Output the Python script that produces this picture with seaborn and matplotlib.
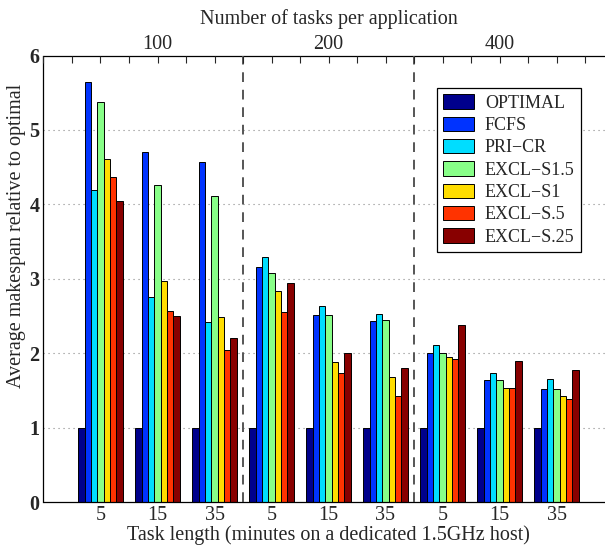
import matplotlib
matplotlib.use("Agg")
import matplotlib.pyplot as plt
import seaborn as sns
import pandas as pd
import numpy as np

methods = ["OPTIMAL", "FCFS", "PRI\u2212CR", "EXCL\u2212S1.5", "EXCL\u2212S1", "EXCL\u2212S.5", "EXCL\u2212S.25"]
task_lengths = ["5", "15", "35", "5", "15", "35", "5", "15", "35"]
tasks_per_app = ["100", "200", "400"]

optimal = [1, 1, 1, 1, 1, 1, 1, 1, 1]
fcfs    = [5.64, 4.71, 4.57, 3.16, 2.52, 2.44, 2.01, 1.64, 1.52]
pri_cr  = [4.20, 2.76, 2.42, 3.30, 2.63, 2.53, 2.11, 1.74, 1.65]
excl_s15 = [5.38, 4.26, 4.11, 3.08, 2.52, 2.45, 2.01, 1.64, 1.52]
excl_s1  = [4.61, 2.97, 2.49, 2.84, 1.89, 1.68, 1.95, 1.54, 1.43]
excl_s05 = [4.37, 2.57, 2.04, 2.56, 1.73, 1.43, 1.92, 1.53, 1.39]
excl_s025 = [4.05, 2.50, 2.20, 2.94, 2.01, 1.80, 2.38, 1.90, 1.78]

series = [optimal, fcfs, pri_cr, excl_s15, excl_s1, excl_s05, excl_s025]
colors = ["#00008C", "#0033FF", "#00DDFF", "#88FF88", "#FFDD00", "#FF3300", "#880000"]

groups = [f"g{i}" for i in range(len(task_lengths))]
rows = []
for m, vals in zip(methods, series):
    for g, v in zip(groups, vals):
        rows.append({"group": g, "method": m, "value": v})
df = pd.DataFrame(rows)

sns.set_style("white")
plt.rcParams["font.family"] = ["Liberation Serif", "DejaVu Serif"]
plt.rcParams["font.size"] = 14.5

fig = plt.figure(figsize=(6.05, 5.48), dpi=100)
W, H = 605, 548
left_px, right_px, top_px, bot_px = 43.5, 613.5, 55.5, 502.3
ax = fig.add_axes([left_px / W, 1 - bot_px / H, (right_px - left_px) / W, (bot_px - top_px) / H])

sns.barplot(data=df, x="group", y="value", hue="method", order=groups, hue_order=methods,
            palette=colors, width=0.777, edgecolor="black", linewidth=0.7, ax=ax,
            saturation=1, legend=True)

ax.set_xlim(-1, 9)
ax.set_ylim(0, 6)
ax.set_yticks(range(7))
ax.set_yticklabels([str(i) for i in range(7)], fontweight="bold")
ax.set_xticks(range(9))
ax.set_xticklabels(task_lengths)
ax.tick_params(axis="x", direction="in", length=0, pad=3)
ax.tick_params(axis="y", direction="out", length=2, width=0.8, pad=1)
ax.set_xlabel("Task length (minutes on a dedicated 1.5GHz host)", labelpad=0)
ax.set_ylabel("")
fig.text(17 / W, 1 - 236 / H, "Average makespan relative to optimal", rotation=90,
         ha="center", va="center", fontsize=14.5)

ax.set_axisbelow(True)
for yv in range(1, 6):
    ax.axhline(yv, color="#888888", linestyle=(0, (1, 3.5)), linewidth=0.8, zorder=0)
for xv in [2.5, 5.5]:
    ax.axvline(xv, color="#555555", linestyle=(0, (5, 4)), linewidth=1.4, zorder=3)

for sp in ax.spines.values():
    sp.set_color("black")
    sp.set_linewidth(0.9)

top = ax.twiny()
top.set_xlim(ax.get_xlim())
top.set_xticks(np.arange(-1, 9.01, 0.5))
labels = []
for t in np.arange(-1, 9.01, 0.5):
    if abs(t - 1) < 1e-6:
        labels.append(tasks_per_app[0])
    elif abs(t - 4) < 1e-6:
        labels.append(tasks_per_app[1])
    elif abs(t - 7) < 1e-6:
        labels.append(tasks_per_app[2])
    else:
        labels.append("")
top.set_xticklabels(labels)
top.tick_params(axis="x", direction="in", length=5, width=0.8, pad=1)
top.set_xlabel("Number of tasks per application", labelpad=8)
for sp in top.spines.values():
    sp.set_visible(False)

leg = ax.legend(loc="upper left", bbox_to_anchor=(437 / W, 1 - 88 / H, 146 / W, 0),
                bbox_transform=fig.transFigure, frameon=True, fancybox=False,
                edgecolor="black", framealpha=1, handlelength=1.7, handleheight=0.85,
                handletextpad=0.6, labelspacing=0.27, borderpad=0.35, borderaxespad=0,
                fontsize=13)
leg.get_frame().set_linewidth(0.9)

fig.savefig("out.png", dpi=100)
